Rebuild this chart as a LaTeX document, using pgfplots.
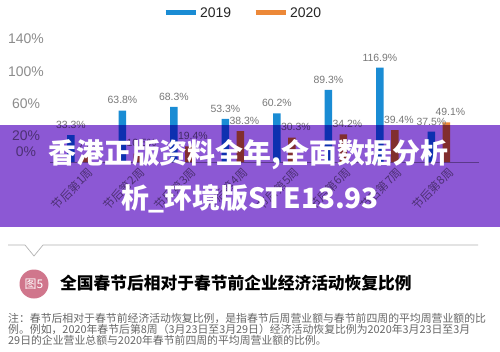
\documentclass[border=0pt]{standalone}
\usepackage{fontspec}
\setmainfont{Liberation Sans}
\newfontfamily\cjk{Noto Sans CJK SC}
\usepackage{pgfplots}
\pgfplotsset{compat=1.18}
\definecolor{c19}{RGB}{26,140,212}
\definecolor{c20}{RGB}{236,136,56}
\definecolor{ov}{RGB}{140,88,212}
\definecolor{pinkc}{RGB}{208,118,140}
\definecolor{tgray}{RGB}{120,120,120}
\definecolor{lgray}{RGB}{140,140,140}
\begin{document}
\begin{tikzpicture}
\useasboundingbox (0,0) rectangle (500bp,-352bp);
\fill[white] (0,0) rectangle (500bp,-352bp);
\begin{axis}[
  at={(50bp,-162bp)}, anchor=south west,
  scale only axis, width=429bp, height=113bp,
  xmin=0.447, xmax=8.78, ymin=0, ymax=140,
  clip=false,
  axis x line*=bottom, axis y line*=left,
  x axis line style={draw=gray!70, line width=0.6pt, -},
  y axis line style={draw=none},
  ybar=7.5bp, bar width=7.5bp,
  xtick={1,...,8},
  xticklabels={节后第1周,节后第2周,节后第3周,节后第4周,节后第5周,节后第6周,节后第7周,节后第8周},
  xtick style={draw=none}, ytick style={draw=none},
  ytick={0,20,60,100,140},
  /pgf/number format/assume math mode=true,
  yticklabel={\pgfmathprintnumber{\tick}\%},
  yticklabel style={anchor=south, xshift=-24bp, yshift=1.5bp, font=\fontsize{14}{14}\selectfont, text=lgray},
  xticklabel style={font=\cjk\fontsize{11.5}{12}\selectfont, text=lgray, rotate=45, anchor=north east, inner sep=0pt, xshift=6bp, yshift=-6bp},
  nodes near coords={\pgfmathprintnumber[fixed,fixed zerofill,precision=1]{\pgfplotspointmeta}\%},
  every node near coord/.append style={font=\fontsize{10.5}{11}\selectfont, text=tgray, yshift=3bp},
  legend style={at={(0.45,1.319)}, anchor=center, draw=none, fill=none, legend columns=2, font=\fontsize{14}{14}\selectfont, text=black!85, /tikz/every even column/.append style={column sep=20bp}},
]
\addplot[fill=c19, draw=none, legend image code/.code={\draw[c19, line width=5bp] (0bp,0bp) -- (30bp,0bp);}]
  coordinates {(1,33.3) (2,63.8) (3,68.3) (4,53.3) (5,60.2) (6,89.3) (7,116.9) (8,37.5)};
\addlegendentry{2019}
\addplot[fill=c20, draw=none, every node near coord/.append style={xshift=4bp}, legend image code/.code={\draw[c20, line width=5bp] (0bp,0bp) -- (30bp,0bp);}]
  coordinates {(1,7.8) (2,10.5) (3,19.4) (4,38.3) (5,30.3) (6,34.2) (7,39.4) (8,49.1)};
\addlegendentry{2020}
\pgfplotsinvokeforeach{0,20,60,100,140}{\draw[gray!45, line width=0.8pt] (axis cs:0.447,#1) ++(-33bp,0) -- ++(18bp,0);}
\end{axis}
\begin{scope}[blend mode=multiply]
\fill[ov] (0,-125bp) rectangle (500bp,-227bp);
\end{scope}
\node[text=white, font=\cjk\bfseries\fontsize{28}{28}\selectfont] at (248.5bp,-155bp) {香港正版资料全年,全面数据分析};
\node[text=white, font=\cjk\bfseries\fontsize{28}{28}\selectfont] at (250bp,-199bp) {析\_环境版STE13.93};
\draw[gray!60, line width=0.7pt] (8bp,-245bp) -- (25bp,-245bp) -- (34bp,-256bp) -- (43bp,-245bp) -- (478bp,-245bp);
\fill[pinkc] (34bp,-284bp) circle (14.5bp);
\node[text=white, font=\cjk\fontsize{12}{12}\selectfont] at (34bp,-284bp) {图5};
\node[anchor=west, inner sep=0pt, font=\cjk\bfseries\fontsize{16.8}{17}\selectfont] at (60bp,-283bp) {全国春节后相对于春节前企业经济活动恢复比例};
\node[anchor=west, inner sep=0pt, text=black!60, font=\cjk\fontsize{10.9}{11}\selectfont] at (8bp,-318bp) {注：春节后相对于春节前经济活动恢复比例，是指春节后周营业额与春节前四周的平均周营业额的比};
\node[anchor=west, inner sep=0pt, text=black!60, font=\cjk\fontsize{10.9}{11}\selectfont] at (8bp,-329bp) {例。例如，2020年春节后第8周（3月23日至3月29日）经济活动恢复比例为2020年3月23日至3月};
\node[anchor=west, inner sep=0pt, text=black!60, font=\cjk\fontsize{10.9}{11}\selectfont] at (8bp,-340bp) {29日的企业营业总额与2020年春节前四周的平均周营业额的比例。};
\end{tikzpicture}
\end{document}
